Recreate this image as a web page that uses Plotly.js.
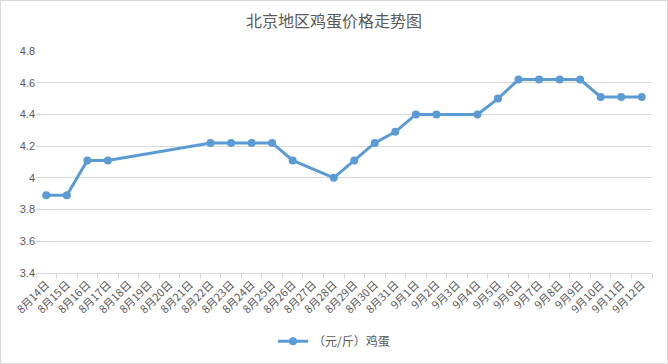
<!DOCTYPE html>
<html>
<head>
<meta charset="utf-8">
<script src="https://cdn.plot.ly/plotly-3.0.1.min.js"></script>
<style>
html,body{margin:0;padding:0;background:#fff;}
#wrap{width:668px;height:364px;box-sizing:border-box;border:1px solid #d9d9d9;}
#chart{width:666px;height:362px;}
</style>
</head>
<body>
<div id="wrap"><div id="chart"></div></div>
<script>
const dates = ["8月14日","8月15日","8月16日","8月17日","8月18日","8月19日","8月20日","8月21日","8月22日","8月23日","8月24日","8月25日","8月26日","8月27日","8月28日","8月29日","8月30日","8月31日","9月1日","9月2日","9月3日","9月4日","9月5日","9月6日","9月7日","9月8日","9月9日","9月10日","9月11日","9月12日"];
const eggPrice = [3.89,3.89,4.11,4.11,null,null,null,null,4.22,4.22,4.22,4.22,4.11,null,4.00,4.11,4.22,4.29,4.40,4.40,null,4.40,4.50,4.62,4.62,4.62,4.62,4.51,4.51,4.51];
const seriesName = "（元/斤）鸡蛋";
const yTicks = [3.4,3.6,3.8,4,4.2,4.4,4.6,4.8];

const fontFam = "Liberation Sans, Noto Sans CJK SC, sans-serif";
const trace = {
  x: dates, y: eggPrice, name: seriesName, type: "scatter", mode: "lines+markers",
  connectgaps: true,
  line: {color: "#5B9BD5", width: 3},
  marker: {color: "#5B9BD5", size: 8}
};
const layout = {
  width: 666, height: 362,
  margin: {l: 35, r: 15, t: 50, b: 90},
  paper_bgcolor: "#fff", plot_bgcolor: "#fff",
  font: {family: fontFam, color: "#595959", size: 11},
  title: {text: "北京地区鸡蛋价格走势图", font: {family: "Noto Sans CJK SC, sans-serif", size: 16, color: "#595959"},
          x: 0.5, xanchor: "center", y: 0.945, yref: "container", yanchor: "middle"},
  xaxis: {type: "category", tickson: "boundaries", ticks: "outside", ticklen: 5, tickcolor: "#d9d9d9",
          showline: true, linecolor: "#d9d9d9", linewidth: 1, showgrid: false, tickangle: -45, automargin: false,
          tickfont: {family: "Noto Sans CJK SC, sans-serif", size: 11, color: "#595959"},
          range: [-0.5, dates.length - 0.5], zeroline: false},
  yaxis: {range: [3.4, 4.8], tickvals: yTicks, ticktext: yTicks.map(String), showgrid: true, gridcolor: "#d9d9d9",
          gridwidth: 1, zeroline: false, showline: false, ticks: "", automargin: false, tickfont: {size: 11, color: "#595959"}},
  showlegend: true,
  legend: {orientation: "h", x: 0.5, xanchor: "center", xref: "container", y: 0.06, yanchor: "middle", yref: "container",
           font: {family: "Noto Sans CJK SC, sans-serif", size: 12, color: "#595959"}}
};
Plotly.newPlot("chart", [trace], layout, {displayModeBar: false, staticPlot: true});
</script>
</body>
</html>
